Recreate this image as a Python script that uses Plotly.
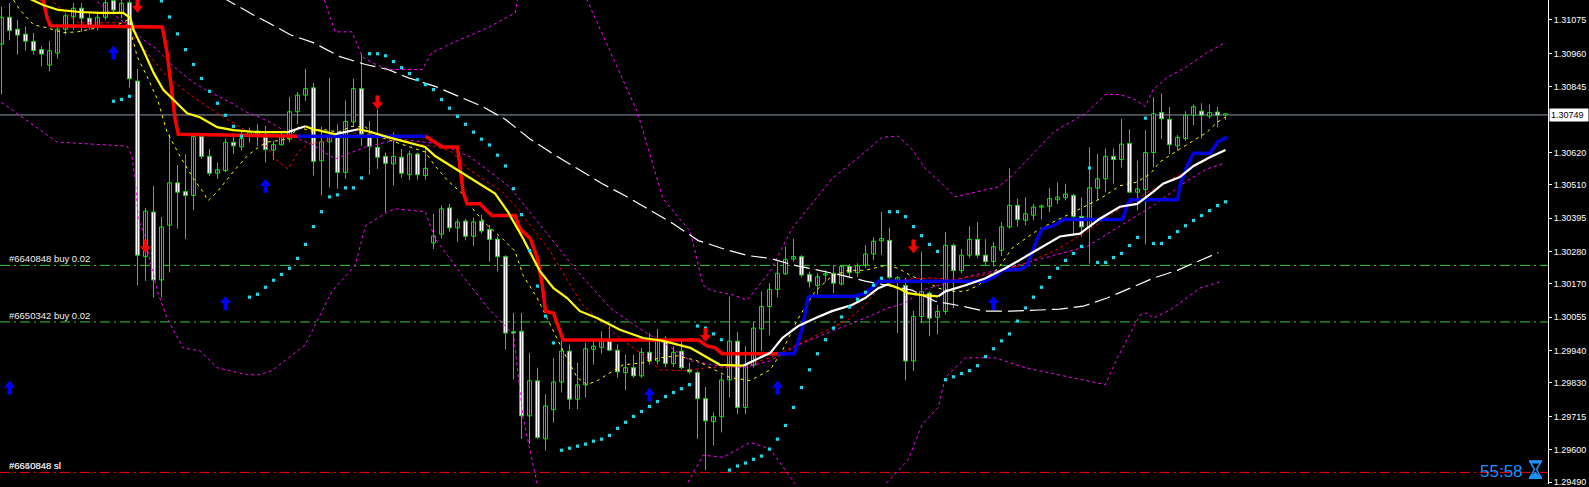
import plotly.graph_objects as go

# ---------------- candles (bar index 0..153) ----------------
OPEN = [
1.30992, 1.31084, 1.31043, 1.31026, 1.31001, 1.30973, 1.30920, 1.30961, 1.31043, 1.31086,
1.31115, 1.31081, 1.31056, 1.31084, 1.31141, 1.31100, 1.31134, 1.30865, 1.30263, 1.30416,
1.30183, 1.30371, 1.30516, 1.30486, 1.30473, 1.30675, 1.30607, 1.30549, 1.30558, 1.30655,
1.30640, 1.30677, 1.30677, 1.30672, 1.30628, 1.30647, 1.30666, 1.30760, 1.30817, 1.30842,
1.30592, 1.30657, 1.30675, 1.30552, 1.30725, 1.30839, 1.30683, 1.30638, 1.30607, 1.30581,
1.30604, 1.30544, 1.30615, 1.30541, 1.30310, 1.30340, 1.30430, 1.30362, 1.30385, 1.30333,
1.30385, 1.30356, 1.30323, 1.30263, 1.30004, 1.30007, 1.29717, 1.29837, 1.29638, 1.29738,
1.29833, 1.29939, 1.29774, 1.29823, 1.29945, 1.29952, 1.29973, 1.29942, 1.29865, 1.29882,
1.29854, 1.29935, 1.29905, 1.29973, 1.29896, 1.29939, 1.29876, 1.29865, 1.29776, 1.29697,
1.29714, 1.29840, 1.29973, 1.29746, 1.29891, 1.30015, 1.30092, 1.30151, 1.30204, 1.30255,
1.30263, 1.30202, 1.30164, 1.30200, 1.30206, 1.30169, 1.30229, 1.30208, 1.30234, 1.30272,
1.30317, 1.30319, 1.30183, 1.30164, 1.29905, 1.30058, 1.30138, 1.30055, 1.30075, 1.30302,
1.30215, 1.30268, 1.30322, 1.30268, 1.30246, 1.30285, 1.30365, 1.30439, 1.30388, 1.30405,
1.30433, 1.30436, 1.30458, 1.30465, 1.30473, 1.30401, 1.30365, 1.30498, 1.30530, 1.30607,
1.30596, 1.30651, 1.30484, 1.30493, 1.30620, 1.30757, 1.30734, 1.30643, 1.30668, 1.30748,
1.30762, 1.30745, 1.30759, 1.30749]
HIGH = [
1.31120, 1.31132, 1.31075, 1.31052, 1.31030, 1.30986, 1.31003, 1.31052, 1.31098, 1.31132,
1.31132, 1.31103, 1.31098, 1.31143, 1.31150, 1.31150, 1.31150, 1.30907, 1.30430, 1.30505,
1.30399, 1.30683, 1.30577, 1.30615, 1.30683, 1.30683, 1.30632, 1.30586, 1.30668, 1.30680,
1.30691, 1.30706, 1.30717, 1.30711, 1.30660, 1.30689, 1.30811, 1.30828, 1.30907, 1.30859,
1.30709, 1.30876, 1.30717, 1.30799, 1.30873, 1.30959, 1.30728, 1.30768, 1.30620, 1.30689,
1.30632, 1.30626, 1.30620, 1.30638, 1.30410, 1.30439, 1.30444, 1.30393, 1.30393, 1.30396,
1.30407, 1.30371, 1.30334, 1.30268, 1.30070, 1.30070, 1.29933, 1.29882, 1.29791, 1.29916,
1.29973, 1.29962, 1.29899, 1.29967, 1.29973, 1.30007, 1.30024, 1.29962, 1.29927, 1.29927,
1.29950, 1.30001, 1.30015, 1.29990, 1.29956, 1.29979, 1.29899, 1.29871, 1.29816, 1.29729,
1.29859, 1.30126, 1.30004, 1.29956, 1.30041, 1.30143, 1.30172, 1.30246, 1.30297, 1.30325,
1.30268, 1.30212, 1.30206, 1.30217, 1.30234, 1.30234, 1.30237, 1.30240, 1.30302, 1.30329,
1.30416, 1.30362, 1.30197, 1.30191, 1.30077, 1.30280, 1.30143, 1.30098, 1.30348, 1.30308,
1.30289, 1.30367, 1.30382, 1.30323, 1.30312, 1.30382, 1.30566, 1.30462, 1.30467, 1.30444,
1.30441, 1.30498, 1.30518, 1.30513, 1.30478, 1.30467, 1.30638, 1.30615, 1.30634, 1.30634,
1.30736, 1.30700, 1.30592, 1.30697, 1.30810, 1.30823, 1.30776, 1.30680, 1.30762, 1.30785,
1.30789, 1.30785, 1.30777, 1.30751]
LOW = [
1.30819, 1.31005, 1.30956, 1.30970, 1.30956, 1.30916, 1.30899, 1.30942, 1.31024, 1.31041,
1.31033, 1.31041, 1.31039, 1.31075, 1.31098, 1.31081, 1.30842, 1.30164, 1.30180, 1.30123,
1.30123, 1.30209, 1.30359, 1.30323, 1.30422, 1.30598, 1.30539, 1.30530, 1.30552, 1.30615,
1.30626, 1.30655, 1.30643, 1.30586, 1.30594, 1.30643, 1.30655, 1.30717, 1.30797, 1.30541,
1.30473, 1.30501, 1.30496, 1.30530, 1.30711, 1.30643, 1.30544, 1.30564, 1.30416, 1.30507,
1.30533, 1.30526, 1.30527, 1.30527, 1.30289, 1.30325, 1.30348, 1.30314, 1.30319, 1.30300,
1.30342, 1.30246, 1.30212, 1.29945, 1.29842, 1.29638, 1.29621, 1.29638, 1.29598, 1.29694,
1.29797, 1.29740, 1.29740, 1.29780, 1.29893, 1.29930, 1.29939, 1.29848, 1.29805, 1.29848,
1.29848, 1.29893, 1.29893, 1.29884, 1.29884, 1.29876, 1.29862, 1.29638, 1.29530, 1.29615,
1.29660, 1.29780, 1.29723, 1.29723, 1.29882, 1.29939, 1.29993, 1.30124, 1.30200, 1.30246,
1.30191, 1.30157, 1.30121, 1.30177, 1.30138, 1.30164, 1.30189, 1.30194, 1.30225, 1.30251,
1.30268, 1.30185, 1.30001, 1.29839, 1.29871, 1.30035, 1.29990, 1.29996, 1.30064, 1.30087,
1.30206, 1.30259, 1.30259, 1.30231, 1.30229, 1.30265, 1.30359, 1.30365, 1.30371, 1.30388,
1.30391, 1.30416, 1.30444, 1.30456, 1.30342, 1.30331, 1.30240, 1.30456, 1.30484, 1.30513,
1.30569, 1.30482, 1.30422, 1.30305, 1.30569, 1.30666, 1.30615, 1.30626, 1.30660, 1.30714,
1.30668, 1.30737, 1.30706, 1.30731]
CLOSE = [
1.31084, 1.31039, 1.31023, 1.31002, 1.30970, 1.30958, 1.30969, 1.31043, 1.31089, 1.31115,
1.31081, 1.31056, 1.31084, 1.31134, 1.31109, 1.31132, 1.30873, 1.30268, 1.30419, 1.30183,
1.30365, 1.30516, 1.30484, 1.30473, 1.30675, 1.30607, 1.30549, 1.30561, 1.30655, 1.30643,
1.30668, 1.30689, 1.30694, 1.30630, 1.30647, 1.30672, 1.30760, 1.30817, 1.30839, 1.30590,
1.30657, 1.30677, 1.30552, 1.30726, 1.30839, 1.30683, 1.30641, 1.30604, 1.30583, 1.30607,
1.30549, 1.30615, 1.30544, 1.30566, 1.30334, 1.30427, 1.30362, 1.30382, 1.30333, 1.30382,
1.30351, 1.30322, 1.30263, 1.30001, 1.30001, 1.29717, 1.29837, 1.29643, 1.29751, 1.29833,
1.29939, 1.29774, 1.29823, 1.29947, 1.29956, 1.29973, 1.29942, 1.29868, 1.29882, 1.29854,
1.29935, 1.29905, 1.29975, 1.29896, 1.29935, 1.29882, 1.29868, 1.29776, 1.29700, 1.29714,
1.29840, 1.29973, 1.29746, 1.29891, 1.30018, 1.30092, 1.30151, 1.30206, 1.30254, 1.30263,
1.30200, 1.30177, 1.30194, 1.30202, 1.30172, 1.30229, 1.30209, 1.30232, 1.30272, 1.30316,
1.30325, 1.30192, 1.30191, 1.29905, 1.30058, 1.30143, 1.30052, 1.30075, 1.30302, 1.30215,
1.30268, 1.30322, 1.30268, 1.30246, 1.30297, 1.30365, 1.30439, 1.30390, 1.30410, 1.30433,
1.30436, 1.30462, 1.30467, 1.30478, 1.30401, 1.30365, 1.30499, 1.30530, 1.30607, 1.30596,
1.30649, 1.30484, 1.30495, 1.30620, 1.30753, 1.30736, 1.30647, 1.30672, 1.30748, 1.30777,
1.30748, 1.30757, 1.30748, 1.30749]

# ---------------- indicators (bar index, price) ----------------
MA_K = [1.0, 4.0, 5.2, 7.1, 9.8, 12.3, 15.2, 16.1, 16.5, 17.7, 19.0, 20.2, 21.5, 23.2, 24.8, 26.96,
        28.96, 32.0, 35.8, 37.96, 38.96, 41.7, 43.0, 44.6, 45.8, 48.3, 50.8, 52.96, 54.2, 56.7,
        59.2, 61.7, 63.3, 65.2, 67.3, 69.0, 70.7, 72.3, 74.5, 77.3, 80.2, 82.7, 86.1, 88.2, 89.8,
        92.7, 93.96, 96.1, 97.6, 99.6, 101.7, 103.8, 106.3, 107.96, 109.6, 110.8, 112.1, 113.3,
        115.1, 117.1, 118.0, 120.5, 123.0, 125.5, 128.0, 129.8, 132.3, 134.8, 137.3, 139.8,
        141.96, 143.96, 145.2, 147.3, 149.0, 151.1, 153.0]
MA_P = [1.31180, 1.31143, 1.31126, 1.31109, 1.31102, 1.31099, 1.31099, 1.31082, 1.31041, 1.30973,
        1.30894, 1.30836, 1.30802, 1.30755, 1.30741, 1.30707, 1.30697, 1.30690, 1.30690, 1.30710,
        1.30700, 1.30683, 1.30690, 1.30700, 1.30693, 1.30673, 1.30656, 1.30639, 1.30608, 1.30564,
        1.30523, 1.30479, 1.30417, 1.30325, 1.30213, 1.30155, 1.30121, 1.30076, 1.30052, 1.30012,
        1.29984, 1.29974, 1.29950, 1.29916, 1.29892, 1.29889, 1.29906, 1.29933, 1.29984, 1.30025,
        1.30052, 1.30076, 1.30097, 1.30121, 1.30155, 1.30168, 1.30155, 1.30138, 1.30131, 1.30127,
        1.30144, 1.30165, 1.30189, 1.30223, 1.30264, 1.30291, 1.30332, 1.30342, 1.30393, 1.30434,
        1.30444, 1.30485, 1.30513, 1.30536, 1.30574, 1.30605, 1.30629]

STEP_K = [0, 5.2, 5.7, 6.1, 20.1, 20.7, 21.3, 21.7, 22.1, 37.0, 53.0, 54.2, 55.1, 57.0, 57.3,
          57.7, 58.2, 59.8, 60.8, 61.3, 64.2, 64.8, 66.1, 67.0, 67.6, 68.0, 69.0, 69.8, 70.2,
          87.1, 88.2, 89.2, 90.1, 97.1, 99.1, 100.1, 100.8, 101.1, 106.7, 108.0, 109.2, 109.6,
          122.9, 124.2, 125.1, 127.3, 128.2, 129.5, 130.1, 131.5, 132.7, 140.1, 140.7, 141.1,
          147.0, 147.3, 148.2, 149.0, 151.1, 152.0, 153.2]
STEP_P = [1.31200, 1.31143, 1.31082, 1.31055, 1.31051, 1.30963, 1.30826, 1.30734, 1.30683,
          1.30676, 1.30676, 1.30656, 1.30639, 1.30639, 1.30574, 1.30485, 1.30444, 1.30444,
          1.30417, 1.30404, 1.30404, 1.30359, 1.30325, 1.30257, 1.30165, 1.30076, 1.30069,
          1.30008, 1.29977, 1.29977, 1.29957, 1.29950, 1.29930, 1.29930, 1.29930, 1.30018,
          1.30121, 1.30127, 1.30127, 1.30138, 1.30165, 1.30179, 1.30179, 1.30196, 1.30216,
          1.30219, 1.30233, 1.30325, 1.30359, 1.30369, 1.30390, 1.30390, 1.30438, 1.30458,
          1.30458, 1.30506, 1.30574, 1.30618, 1.30618, 1.30656, 1.30673]
STEP_TREND_SWITCH_K = [37.0, 53.0, 97.1]   # trend starts down, flips at each of these bars

YD_K = [1.5, 2.3, 4.0, 5.7, 7.7, 9.5, 12.0, 14.5, 15.8, 16.96, 18.2, 19.5, 20.7, 22.3, 24.0,
        25.2, 25.8, 26.96, 28.96, 30.7, 32.3, 33.3, 35.8, 37.1, 38.8, 40.1, 42.1, 43.8, 45.5,
        47.1, 49.2, 50.8, 52.96, 54.2, 55.8, 57.6, 59.2, 60.8, 62.6, 64.2, 65.2, 66.96, 68.6,
        70.2, 71.96, 73.2, 74.5, 76.1, 77.7, 80.2, 82.3, 84.5, 86.96, 88.6, 91.1, 93.6, 96.1,
        97.6, 99.6, 101.7, 103.8, 105.8, 107.96, 110.5, 112.1, 113.8, 115.5, 117.1, 118.8,
        120.5, 122.1, 124.6, 126.3, 128.0, 129.8, 132.3, 134.8, 137.3, 139.8, 141.96, 143.6,
        144.8, 147.3, 148.96, 150.7, 151.96, 152.96]
YD_P = [1.31143, 1.31109, 1.31058, 1.31048, 1.31031, 1.31034, 1.31048, 1.31058, 1.31075, 1.30949,
        1.30881, 1.30802, 1.30690, 1.30608, 1.30530, 1.30485, 1.30455, 1.30485, 1.30554, 1.30608,
        1.30642, 1.30656, 1.30666, 1.30707, 1.30693, 1.30700, 1.30690, 1.30710, 1.30707, 1.30676,
        1.30656, 1.30642, 1.30622, 1.30574, 1.30523, 1.30479, 1.30417, 1.30369, 1.30325, 1.30281,
        1.30199, 1.30121, 1.30029, 1.29940, 1.29848, 1.29824, 1.29838, 1.29865, 1.29892, 1.29899,
        1.29916, 1.29923, 1.29906, 1.29882, 1.29848, 1.29838, 1.29875, 1.29940, 1.30052, 1.30144,
        1.30196, 1.30216, 1.30216, 1.30233, 1.30223, 1.30196, 1.30179, 1.30155, 1.30144, 1.30144,
        1.30165, 1.30223, 1.30291, 1.30325, 1.30359, 1.30393, 1.30427, 1.30461, 1.30506, 1.30519,
        1.30547, 1.30588, 1.30632, 1.30659, 1.30690, 1.30724, 1.30741]

RD_K = [6.5, 9.5, 15.7, 16.5, 18.6, 20.7, 23.2, 25.7, 28.2, 30.7, 32.3, 34.2, 35.8, 37.1, 38.3,
        40.1, 41.7, 43.8, 44.6, 46.7, 49.2, 51.7, 54.2, 56.3, 58.3, 60.8, 62.6, 64.2, 66.1, 68.6,
        71.1, 72.7, 74.8, 77.3, 80.2, 82.3, 85.2, 88.2, 90.7, 93.2, 96.1, 97.9, 100.4, 102.96,
        105.8, 107.96, 109.6, 110.8, 113.0, 116.0, 119.0, 122.0, 125.5, 128.0, 131.5, 135.7,
        139.8, 143.96, 148.2, 152.4]
RD_P = [1.31136, 1.31065, 1.31065, 1.31017, 1.30949, 1.30881, 1.30826, 1.30778, 1.30734, 1.30693,
        1.30676, 1.30598, 1.30564, 1.30622, 1.30649, 1.30656, 1.30676, 1.30673, 1.30700, 1.30676,
        1.30666, 1.30649, 1.30642, 1.30622, 1.30564, 1.30519, 1.30485, 1.30438, 1.30369, 1.30281,
        1.30165, 1.30097, 1.30042, 1.29984, 1.29926, 1.29875, 1.29872, 1.29882, 1.29882, 1.29892,
        1.29916, 1.29940, 1.29974, 1.30008, 1.30046, 1.30097, 1.30155, 1.30168, 1.30185, 1.30190,
        1.30185, 1.30196, 1.30216, 1.30240, 1.30281, 1.30349, 1.30427, 1.30495, 1.30557, 1.30621]

BU_K = [39.5, 40.5, 41.7, 43.8, 45.1, 46.3, 48.3, 52.6, 53.8, 56.7, 60.8, 62.6, 64.2, 64.5, 66.0,
        72.0, 73.2, 79.5, 82.7, 86.1, 87.7, 88.6, 91.5, 93.2, 96.1, 98.8, 103.8, 107.96, 110.1,
        112.1, 113.8, 115.5, 117.6, 119.2, 122.1, 124.6, 126.3, 127.96, 131.5, 135.7, 137.96,
        139.8, 141.7, 142.96, 143.96, 145.7, 148.2, 150.7, 152.96]
BU_P = [1.31200, 1.31133, 1.31034, 1.31034, 1.30949, 1.30928, 1.30905, 1.30905, 1.30963, 1.31000,
        1.31048, 1.31075, 1.31099, 1.31143, 1.31250, 1.31250, 1.31143, 1.30758, 1.30461, 1.30349,
        1.30165, 1.30148, 1.30131, 1.30114, 1.30213, 1.30359, 1.30530, 1.30622, 1.30673, 1.30676,
        1.30632, 1.30564, 1.30513, 1.30468, 1.30485, 1.30502, 1.30540, 1.30588, 1.30690, 1.30758,
        1.30819, 1.30819, 1.30802, 1.30778, 1.30836, 1.30877, 1.30915, 1.30963, 1.30997]

BM_K = [9.0, 11.8, 16.5, 17.7, 19.5, 21.5, 24.0, 26.1, 28.6, 30.7, 32.3, 34.0, 37.1, 38.8, 41.7,
        45.5, 49.8, 54.8, 58.6, 63.6, 67.7, 71.96, 76.1, 80.2, 83.2, 86.1, 89.5, 92.7, 96.1, 99.6,
        103.8, 107.96, 110.8, 112.96, 115.1, 117.96, 121.3, 124.6, 127.96, 131.5, 135.7, 139.8,
        143.96, 148.2, 150.7, 152.6]
BM_P = [1.31200, 1.31140, 1.31041, 1.31007, 1.30973, 1.30915, 1.30860, 1.30826, 1.30792, 1.30758,
        1.30741, 1.30717, 1.30666, 1.30649, 1.30598, 1.30639, 1.30666, 1.30649, 1.30605, 1.30500,
        1.30359, 1.30213, 1.30087, 1.30008, 1.29960, 1.29906, 1.29889, 1.29882, 1.29906, 1.29960,
        1.30008, 1.30052, 1.30087, 1.30104, 1.30148, 1.30172, 1.30199, 1.30216, 1.30240, 1.30267,
        1.30298, 1.30369, 1.30438, 1.30523, 1.30564, 1.30581]

BL_K = [0, 6.96, 15.7, 16.3, 16.7, 17.1, 17.7, 19.5, 20.7, 22.7, 24.8, 26.96, 30.7, 32.3, 33.8,
        37.96, 41.3, 44.2, 45.5, 48.3, 49.2, 52.96, 54.2, 57.6, 60.8, 64.0, 65.2, 66.96, 70.0,
        76.0, 82.0, 85.7, 87.7, 90.2, 93.6, 96.1, 99.2, 103.0, 107.0, 110.5, 113.3, 115.1, 117.1,
        117.96, 120.5, 124.2, 127.96, 134.8, 137.96, 139.5, 142.3, 143.2, 143.96, 146.1, 149.8,
        152.6]
BL_P = [1.30792, 1.30656, 1.30642, 1.30608, 1.30530, 1.30393, 1.30349, 1.30144, 1.30052, 1.29950,
        1.29940, 1.29882, 1.29858, 1.29858, 1.29872, 1.29960, 1.30144, 1.30233, 1.30369, 1.30417,
        1.30427, 1.30417, 1.30325, 1.30199, 1.30087, 1.29995, 1.29711, 1.29483, 1.29380, 1.29360,
        1.29400, 1.29483, 1.29582, 1.29575, 1.29626, 1.29603, 1.29483, 1.29430, 1.29430, 1.29483,
        1.29565, 1.29688, 1.29746, 1.29848, 1.29916, 1.29916, 1.29882, 1.29841, 1.29824, 1.29916,
        1.30063, 1.30070, 1.30052, 1.30080, 1.30155, 1.30179]

WD_K = [20.0, 28.2, 31.5, 33.2, 36.1, 38.96, 42.3, 45.5, 48.3, 50.8, 54.2, 57.1, 60.1, 62.96, 64.2,
        66.1, 68.96, 71.96, 75.1, 77.96, 81.1, 83.96, 87.1, 90.1, 93.2, 96.1, 99.2, 102.1, 105.1,
        107.96, 110.8, 113.8, 116.7, 120.1, 122.96, 126.1, 129.8, 132.3, 135.2, 138.2, 141.1,
        143.96, 146.96, 149.8, 152.1]
WD_P = [1.31250, 1.31143, 1.31092, 1.31068, 1.31024, 1.30997, 1.30949, 1.30922, 1.30905, 1.30877,
        1.30847, 1.30813, 1.30778, 1.30734, 1.30707, 1.30666, 1.30615, 1.30564, 1.30513, 1.30472,
        1.30421, 1.30376, 1.30318, 1.30291, 1.30267, 1.30257, 1.30233, 1.30216, 1.30199, 1.30179,
        1.30165, 1.30148, 1.30110, 1.30093, 1.30076, 1.30076, 1.30080, 1.30083, 1.30093, 1.30121,
        1.30155, 1.30189, 1.30216, 1.30250, 1.30277]

SAR_START = 14
SAR = [1.30796, 1.30802, 1.30813, None, None, None, 1.31140, 1.31085, 1.31027, 1.30973,
       1.30922, 1.30874, 1.30830, 1.30789, 1.30748, 1.30710, 1.30676, 1.30124, 1.30134, 1.30158,
       1.30182, 1.30202, 1.30223, 1.30257, 1.30305, 1.30366, 1.30417, 1.30468, 1.30475, 1.30499,
       1.30499, 1.30533, 1.30959, 1.30959, 1.30952, 1.30932, 1.30911, 1.30891, 1.30870, 1.30853,
       1.30836, 1.30802, 1.30772, 1.30744, 1.30717, 1.30690, 1.30666, 1.30646, 1.30611, 1.30574,
       1.30496, 1.30407, 1.30284, 1.30162, 1.30059, 1.29967, 1.29599, 1.29606, 1.29613, 1.29620,
       1.29630, 1.29637, 1.29650, 1.29674, 1.29695, 1.29715, 1.29732, 1.29749, 1.29766, 1.29783,
       1.29797, 1.29810, 1.29824, 1.30025, 1.30018, 1.29998, 1.29978, 1.29531, 1.29545, 1.29555,
       1.29568, 1.29579, 1.29603, 1.29637, 1.29684, 1.29746, 1.29814, 1.29875, 1.29930, 1.29978,
       1.30018, 1.30056, 1.30090, 1.30117, 1.30141, 1.30165, 1.30189, 1.30417, 1.30417, 1.30400,
       1.30366, 1.30335, 1.30305, 1.30281, 1.29841, 1.29851, 1.29862, 1.29872, 1.29889, 1.29920,
       1.29947, 1.29974, 1.29998, 1.30042, 1.30087, 1.30124, 1.30158, 1.30192, 1.30223, 1.30250,
       1.30274, 1.30298, 1.30567, 1.30243, 1.30243, 1.30260, 1.30274, 1.30301, 1.30329, 1.30738,
       1.30308, 1.30308, 1.30329, 1.30349, 1.30369, 1.30387, 1.30404, 1.30421, 1.30438, 1.30451]

BUY_K = [1, 14, 28, 33, 81, 97, 124]
BUY_P = [1.29814, 1.30963, 1.30104, 1.30506, 1.29790, 1.29814, 1.30104]
SELL_K = [17, 18, 47, 88, 114]
SELL_P = [1.31123, 1.30298, 1.30792, 1.29994, 1.30298]

ORDER_PRICES = [1.30233, 1.30039]
ORDER_LABELS = ["#6640848 buy 0.02", "#6650342 buy 0.02"]
SL_PRICE = 1.29523
SL_LABELS = ["#6640848 sl", "#6650848 sl"]
BID = 1.30749
TIMER = "55:58"
TICKS = [1.31075, 1.30960, 1.30845, 1.30620, 1.30510, 1.30395, 1.30280, 1.30170,
         1.30055, 1.29940, 1.29830, 1.29715, 1.29600, 1.29490]

# ---------------- styling / geometry ----------------
W, H = 1589, 487
PLOT_W = 1548
Y_MIN, Y_MAX = 1.294832, 1.311432
X_MIN, X_MAX = -0.1875, 193.3125
PPX = (Y_MAX - Y_MIN) / H
GREEN = '#00E800'
FONT = 'Liberation Sans, Arial, sans-serif'

fig = go.Figure()

def line(xs, ys, color, width=1, dash='solid'):
    fig.add_trace(go.Scatter(x=xs, y=ys, mode='lines', line=dict(color=color, width=width, dash=dash),
                             hoverinfo='skip', connectgaps=False))

# level lines
for p in ORDER_PRICES:
    fig.add_shape(type='line', xref='paper', x0=0, x1=1, yref='y', y0=p, y1=p, layer='below',
                  line=dict(color='#32CD32', width=1, dash='10px,4px,2px,4px'))
fig.add_shape(type='line', xref='paper', x0=0, x1=1, yref='y', y0=SL_PRICE, y1=SL_PRICE, layer='below',
              line=dict(color='#FF0000', width=1, dash='10px,4px,2px,4px'))
fig.add_shape(type='line', xref='paper', x0=0, x1=1, yref='y', y0=BID, y1=BID, layer='below',
              line=dict(color='#8A99A8', width=1))

# candles: wicks then bodies
idx = list(range(len(OPEN)))
wx, wy = [], []
for i in idx:
    wx += [i, i, None]
    wy += [LOW[i], HIGH[i], None]
line(wx, wy, GREEN, 1)
MIN_BODY = 1.2 * PPX
for up, fill in ((True, '#000000'), (False, '#FFFFFF')):
    xs, base, hh = [], [], []
    for i in idx:
        if (CLOSE[i] >= OPEN[i]) == up:
            lo, hi = min(OPEN[i], CLOSE[i]), max(OPEN[i], CLOSE[i])
            xs.append(i)
            base.append(lo)
            hh.append(max(hi - lo, MIN_BODY))
    fig.add_trace(go.Bar(x=xs, y=hh, base=base, width=0.5, hoverinfo='skip',
                         marker=dict(color=fill, line=dict(color=GREEN, width=1))))

# bands & averages
for ks, ps in ((BU_K, BU_P), (BM_K, BM_P), (BL_K, BL_P)):
    line(ks, ps, '#FF00FF', 1, '3px,3px')
line(WD_K, WD_P, '#FFFFFF', 1.2, '16px,6px')
line(RD_K, RD_P, '#FF0000', 1, '3px,3px')
line(YD_K, YD_P, '#FFFF00', 1, '3px,4px')

# step trend line (red = down, blue = up)
def trend_at(k):
    n = sum(1 for s in STEP_TREND_SWITCH_K if s <= k + 1e-9)
    return -1 if n % 2 == 0 else 1
runs = []
for i in range(len(STEP_K) - 1):
    c = '#FF0000' if trend_at(STEP_K[i]) < 0 else '#0000E0'
    if runs and runs[-1][0] == c:
        runs[-1][1].append(STEP_K[i + 1]); runs[-1][2].append(STEP_P[i + 1])
    else:
        runs.append([c, [STEP_K[i], STEP_K[i + 1]], [STEP_P[i], STEP_P[i + 1]]])
for c, xs, ys in runs:
    line(xs, ys, c, 3.5)

# main MA: white when rising, yellow otherwise
runs = []
for i in range(len(MA_K) - 1):
    c = '#FFFFFF' if MA_P[i + 1] > MA_P[i] else '#FFFF00'
    if runs and runs[-1][0] == c:
        runs[-1][1].append(MA_K[i + 1]); runs[-1][2].append(MA_P[i + 1])
    else:
        runs.append([c, [MA_K[i], MA_K[i + 1]], [MA_P[i], MA_P[i + 1]]])
for c, xs, ys in runs:
    line(xs, ys, c, 2.2)

# parabolic SAR
sk = [SAR_START + i for i, v in enumerate(SAR) if v is not None]
sv = [v for v in SAR if v is not None]
fig.add_trace(go.Scatter(x=sk, y=sv, mode='markers', hoverinfo='skip',
                         marker=dict(symbol='square', size=3.2, color='#20D8E8', line=dict(width=0))))

# signal arrows: stem + triangular head, sized in screen pixels
def arrows(ks, ps, direction, color):
    sx, sy, hx, hy = [], [], [], []
    for k, p in zip(ks, ps):
        # direction +1 = up arrow (head on top), -1 = down arrow
        sx += [k, k, None]
        sy += [p - direction * 7 * PPX, p + direction * 2 * PPX, None]
        hx.append(k)
        hy.append(p + direction * 2.3 * PPX)
    line(sx, sy, color, 4)
    fig.add_trace(go.Scatter(x=hx, y=hy, mode='markers', hoverinfo='skip',
                             marker=dict(symbol='triangle-up' if direction > 0 else 'triangle-down',
                                         size=9.5, color=color, line=dict(width=0))))
arrows(BUY_K, BUY_P, 1, '#0000FF')
arrows(SELL_K, SELL_P, -1, '#FF0000')

# order labels
for p, t in zip(ORDER_PRICES, ORDER_LABELS):
    fig.add_annotation(x=7 / PLOT_W, xref='paper', y=p, yref='y', text=t, showarrow=False,
                       xanchor='left', yanchor='bottom', yshift=-1,
                       font=dict(family=FONT, size=9.5, color='#F0F0F0'))
for t in SL_LABELS:
    fig.add_annotation(x=7 / PLOT_W, xref='paper', y=SL_PRICE, yref='y', text=t, showarrow=False,
                       xanchor='left', yanchor='bottom', yshift=-1, opacity=0.85,
                       font=dict(family=FONT, size=9.5, color='#F0F0F0'))

# bid price box on the axis
fig.add_annotation(x=1, xref='paper', y=BID, yref='y', text=f'{BID:.5f}', showarrow=False,
                   xanchor='left', xshift=1, yanchor='middle', bgcolor='#FFFFFF', borderpad=1,
                   width=36, align='left', font=dict(family=FONT, size=9, color='#000000'))

# timer + hourglass
def pp(px, py):
    return px / PLOT_W, 1 - py / H
tx, ty = pp(1501, 474)
fig.add_annotation(x=tx, y=ty, xref='paper', yref='paper', text=TIMER, showarrow=False,
                   xanchor='center', yanchor='middle', font=dict(family=FONT, size=17, color='#1E90FF'))
ox, oy = 1529, 464
def path(points, close=False):
    s = ''
    for j, (a, b) in enumerate(points):
        x, y = pp(ox + a, oy + b)
        s += ('M' if j == 0 else 'L') + f'{x:.6f},{y:.6f} '
    return s + ('Z' if close else '')
for seg in ([(0, 0), (13, 0)], [(0, 17), (13, 17)]):
    fig.add_shape(type='path', xref='paper', yref='paper', path=path(seg),
                  line=dict(color='#1E90FF', width=2))
fig.add_shape(type='path', xref='paper', yref='paper',
              path=path([(1.5, 1.5), (11.5, 1.5), (7.5, 8.5), (11.5, 15.5), (1.5, 15.5), (5.5, 8.5)], True),
              line=dict(color='#1E90FF', width=1.5))
fig.add_shape(type='path', xref='paper', yref='paper',
              path=path([(3, 15), (10, 15), (6.5, 11)], True),
              fillcolor='#1E90FF', line=dict(color='#1E90FF', width=1))

fig.update_layout(
    width=W, height=H, margin=dict(l=0, r=W - PLOT_W, t=0, b=0),
    paper_bgcolor='#000000', plot_bgcolor='#000000', showlegend=False,
    barmode='overlay', hovermode=False,
    xaxis=dict(range=[X_MIN, X_MAX], visible=False, fixedrange=True),
    yaxis=dict(range=[Y_MIN, Y_MAX], side='right', tickvals=TICKS,
               ticktext=[f'{v:.5f}' for v in TICKS], ticks='outside', ticklen=3,
               tickcolor='#FFFFFF', tickfont=dict(family=FONT, size=9, color='#FFFFFF'),
               ticklabeloverflow='allow',
               showline=True, linecolor='#FFFFFF', linewidth=1, showgrid=False,
               zeroline=False, fixedrange=True),
)

fig.write_html("out.html", include_plotlyjs=True, config={'displayModeBar': False},
               post_script="document.body.style.margin='0px';document.body.style.background='#000';")
